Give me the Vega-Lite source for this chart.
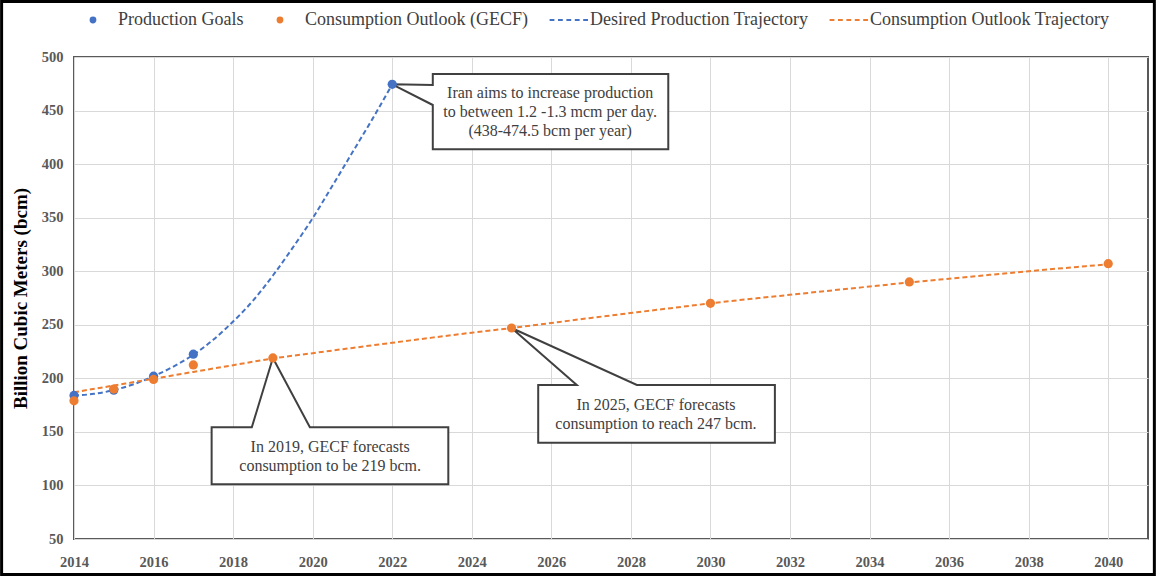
{
  "$schema": "https://vega.github.io/schema/vega-lite/v6.json",
  "width": 1074,
  "height": 482,
  "autosize": {"type": "none"},
  "padding": {"left": 74, "top": 57, "right": 8, "bottom": 37},
  "background": "white",
  "config": {
    "view": {"stroke": "#595959", "strokeWidth": 2},
    "font": "Liberation Serif"
  },
  "datasets": {
    "points": [
      {"series": "Production Goals", "year": 2014, "bcm": 184},
      {"series": "Production Goals", "year": 2015, "bcm": 189},
      {"series": "Production Goals", "year": 2016, "bcm": 202},
      {"series": "Production Goals", "year": 2017, "bcm": 222.5},
      {"series": "Production Goals", "year": 2022, "bcm": 474.5},
      {"series": "Consumption Outlook (GECF)", "year": 2014, "bcm": 179},
      {"series": "Consumption Outlook (GECF)", "year": 2015, "bcm": 190},
      {"series": "Consumption Outlook (GECF)", "year": 2016, "bcm": 199},
      {"series": "Consumption Outlook (GECF)", "year": 2017, "bcm": 212.5},
      {"series": "Consumption Outlook (GECF)", "year": 2019, "bcm": 219},
      {"series": "Consumption Outlook (GECF)", "year": 2025, "bcm": 247},
      {"series": "Consumption Outlook (GECF)", "year": 2030, "bcm": 270},
      {"series": "Consumption Outlook (GECF)", "year": 2035, "bcm": 290},
      {"series": "Consumption Outlook (GECF)", "year": 2040, "bcm": 307}
    ],
    "trend": [
      {"series": "Desired Production Trajectory", "year": 2014, "bcm": 184},
      {"series": "Desired Production Trajectory", "year": 2014.5, "bcm": 185.5},
      {"series": "Desired Production Trajectory", "year": 2015, "bcm": 189},
      {"series": "Desired Production Trajectory", "year": 2015.5, "bcm": 194.5},
      {"series": "Desired Production Trajectory", "year": 2016, "bcm": 202},
      {"series": "Desired Production Trajectory", "year": 2016.5, "bcm": 211},
      {"series": "Desired Production Trajectory", "year": 2017, "bcm": 222},
      {"series": "Desired Production Trajectory", "year": 2017.5, "bcm": 236},
      {"series": "Desired Production Trajectory", "year": 2018, "bcm": 253},
      {"series": "Desired Production Trajectory", "year": 2018.5, "bcm": 272.5},
      {"series": "Desired Production Trajectory", "year": 2019, "bcm": 296},
      {"series": "Desired Production Trajectory", "year": 2019.5, "bcm": 322},
      {"series": "Desired Production Trajectory", "year": 2020, "bcm": 349.5},
      {"series": "Desired Production Trajectory", "year": 2020.5, "bcm": 380},
      {"series": "Desired Production Trajectory", "year": 2021, "bcm": 411},
      {"series": "Desired Production Trajectory", "year": 2021.5, "bcm": 442},
      {"series": "Desired Production Trajectory", "year": 2022, "bcm": 474.5},
      {"series": "Consumption Outlook Trajectory", "year": 2014, "bcm": 187},
      {"series": "Consumption Outlook Trajectory", "year": 2015, "bcm": 193.3},
      {"series": "Consumption Outlook Trajectory", "year": 2016, "bcm": 199.6},
      {"series": "Consumption Outlook Trajectory", "year": 2017, "bcm": 206},
      {"series": "Consumption Outlook Trajectory", "year": 2018, "bcm": 212.3},
      {"series": "Consumption Outlook Trajectory", "year": 2019, "bcm": 218.5},
      {"series": "Consumption Outlook Trajectory", "year": 2020, "bcm": 223.5},
      {"series": "Consumption Outlook Trajectory", "year": 2021, "bcm": 228.4},
      {"series": "Consumption Outlook Trajectory", "year": 2022, "bcm": 233.2},
      {"series": "Consumption Outlook Trajectory", "year": 2023, "bcm": 238},
      {"series": "Consumption Outlook Trajectory", "year": 2024, "bcm": 242.6},
      {"series": "Consumption Outlook Trajectory", "year": 2025, "bcm": 247},
      {"series": "Consumption Outlook Trajectory", "year": 2026, "bcm": 251.7},
      {"series": "Consumption Outlook Trajectory", "year": 2027, "bcm": 256.4},
      {"series": "Consumption Outlook Trajectory", "year": 2028, "bcm": 261},
      {"series": "Consumption Outlook Trajectory", "year": 2029, "bcm": 265.5},
      {"series": "Consumption Outlook Trajectory", "year": 2030, "bcm": 270},
      {"series": "Consumption Outlook Trajectory", "year": 2032, "bcm": 278},
      {"series": "Consumption Outlook Trajectory", "year": 2034, "bcm": 285.7},
      {"series": "Consumption Outlook Trajectory", "year": 2035, "bcm": 289.5},
      {"series": "Consumption Outlook Trajectory", "year": 2036, "bcm": 293},
      {"series": "Consumption Outlook Trajectory", "year": 2038, "bcm": 300},
      {"series": "Consumption Outlook Trajectory", "year": 2040, "bcm": 306.5}
    ],
    "callouts": [
      {"id": 1, "ord": 0, "year": 2022, "bcm": 474.5},
      {"id": 1, "ord": 1, "year": 2023.02, "bcm": 473.9},
      {"id": 1, "ord": 2, "year": 2023.02, "bcm": 484.1},
      {"id": 1, "ord": 3, "year": 2028.94, "bcm": 484.1},
      {"id": 1, "ord": 4, "year": 2028.94, "bcm": 413.8},
      {"id": 1, "ord": 5, "year": 2023.02, "bcm": 413.8},
      {"id": 1, "ord": 6, "year": 2023.02, "bcm": 455.2},
      {"id": 1, "ord": 7, "year": 2022, "bcm": 474.5},
      {"id": 2, "ord": 0, "year": 2019, "bcm": 219},
      {"id": 2, "ord": 1, "year": 2019.93, "bcm": 154.3},
      {"id": 2, "ord": 2, "year": 2023.41, "bcm": 154.3},
      {"id": 2, "ord": 3, "year": 2023.41, "bcm": 101.1},
      {"id": 2, "ord": 4, "year": 2017.46, "bcm": 101.1},
      {"id": 2, "ord": 5, "year": 2017.46, "bcm": 154.3},
      {"id": 2, "ord": 6, "year": 2018.47, "bcm": 154.3},
      {"id": 2, "ord": 7, "year": 2019, "bcm": 219},
      {"id": 3, "ord": 0, "year": 2025, "bcm": 247},
      {"id": 3, "ord": 1, "year": 2028.15, "bcm": 193.8},
      {"id": 3, "ord": 2, "year": 2031.62, "bcm": 193.8},
      {"id": 3, "ord": 3, "year": 2031.62, "bcm": 139.9},
      {"id": 3, "ord": 4, "year": 2025.67, "bcm": 139.9},
      {"id": 3, "ord": 5, "year": 2025.67, "bcm": 193.8},
      {"id": 3, "ord": 6, "year": 2026.64, "bcm": 193.8},
      {"id": 3, "ord": 7, "year": 2025, "bcm": 247}
    ],
    "notes": [
      {"id": 1, "year": 2025.97, "bcm": 466.1, "text": "Iran aims to increase production\nto between 1.2 -1.3 mcm per day.\n(438-474.5 bcm per year)"},
      {"id": 2, "year": 2020.44, "bcm": 135.6, "text": "In 2019, GECF forecasts\nconsumption to be 219 bcm."},
      {"id": 3, "year": 2028.63, "bcm": 175.1, "text": "In 2025, GECF forecasts\nconsumption to reach 247 bcm."}
    ]
  },
  "layer": [
    {
      "encoding": {
        "x": {
          "field": "year",
          "type": "quantitative",
          "scale": {"domain": [2014, 2041], "nice": false, "zero": false},
          "axis": {
            "title": null,
            "values": [2014, 2016, 2018, 2020, 2022, 2024, 2026, 2028, 2030, 2032, 2034, 2036, 2038, 2040],
            "format": "d",
            "grid": true,
            "gridColor": "#d9d9d9",
            "domain": false,
            "ticks": false,
            "labelFlush": false,
            "labelFont": "Liberation Serif",
            "labelFontWeight": "bold",
            "labelFontSize": 14.5,
            "labelColor": "#595959",
            "labelPadding": 16
          }
        },
        "y": {
          "field": "bcm",
          "type": "quantitative",
          "scale": {"domain": [50, 500], "nice": false, "zero": false},
          "axis": {
            "title": "Billion Cubic Meters (bcm)",
            "titleFont": "Liberation Serif",
            "titleFontSize": 19,
            "titleFontWeight": "bold",
            "titleColor": "#000000",
            "titlePadding": 11,
            "values": [50, 100, 150, 200, 250, 300, 350, 400, 450, 500],
            "grid": true,
            "gridColor": "#d9d9d9",
            "domain": false,
            "ticks": false,
            "labelFlush": false,
            "labelFont": "Liberation Serif",
            "labelFontWeight": "bold",
            "labelFontSize": 14.5,
            "labelColor": "#595959",
            "labelPadding": 11
          }
        }
      },
      "layer": [
        {
          "data": {"name": "callouts"},
          "mark": {"type": "line", "fill": "white", "stroke": "#404040", "strokeWidth": 2, "interpolate": "linear"},
          "encoding": {
            "detail": {"field": "id", "type": "nominal"},
            "order": {"field": "ord", "type": "quantitative"}
          }
        },
        {
          "data": {"name": "trend"},
          "transform": [{"filter": "datum.series === 'Desired Production Trajectory'"}],
          "mark": {"type": "line", "stroke": "#4472C4", "strokeWidth": 2, "strokeDash": [5, 3], "interpolate": "monotone"},
          "encoding": {}
        },
        {
          "data": {"name": "trend"},
          "transform": [{"filter": "datum.series === 'Consumption Outlook Trajectory'"}],
          "mark": {"type": "line", "stroke": "#ED7D31", "strokeWidth": 2, "strokeDash": [5, 3], "interpolate": "monotone"},
          "encoding": {}
        },
        {
          "data": {"name": "points"},
          "transform": [{"filter": "datum.series === 'Production Goals'"}],
          "mark": {"type": "circle", "size": 85, "color": "#4472C4", "opacity": 1},
          "encoding": {}
        },
        {
          "data": {"name": "points"},
          "transform": [{"filter": "datum.series === 'Consumption Outlook (GECF)'"}],
          "mark": {"type": "circle", "size": 85, "color": "#ED7D31", "opacity": 1},
          "encoding": {}
        },
        {
          "data": {"name": "points"},
          "mark": {"type": "point", "filled": true, "size": 0, "strokeWidth": 2, "opacity": 1},
          "encoding": {
            "fill": {
              "field": "series", "type": "nominal",
              "scale": {
                "domain": ["Production Goals", "Consumption Outlook (GECF)", "Desired Production Trajectory", "Consumption Outlook Trajectory"],
                "range": ["#4472C4", "#ED7D31", "#4472C4", "#ED7D31"]
              },
              "legend": {
                "title": null,
                "orient": "none",
                "legendX": 20,
                "legendY": -46,
                "direction": "horizontal",
                "symbolSize": 64,
                "symbolStrokeWidth": 2,
                "labelFont": "Liberation Serif",
                "labelFontSize": 18,
                "labelColor": "#404040",
                "labelOffset": 6,
                "columnPadding": 16,
                "labelLimit": 400
              }
            },
            "stroke": {
              "field": "series", "type": "nominal",
              "scale": {
                "domain": ["Production Goals", "Consumption Outlook (GECF)", "Desired Production Trajectory", "Consumption Outlook Trajectory"],
                "range": ["#4472C4", "#ED7D31", "#4472C4", "#ED7D31"]
              }
            },
            "shape": {
              "field": "series", "type": "nominal",
              "scale": {
                "domain": ["Production Goals", "Consumption Outlook (GECF)", "Desired Production Trajectory", "Consumption Outlook Trajectory"],
                "range": [
                  "M-6.35,0M-3.1,0A0.6,0.6 0 1,0 -1.9,0A0.6,0.6 0 1,0 -3.1,0Z",
                  "M-6.35,0M-3.1,0A0.6,0.6 0 1,0 -1.9,0A0.6,0.6 0 1,0 -3.1,0Z",
                  "M-6.35,0H-5.15M-4.25,0H-3.05M-2.15,0H-0.95M-0.05,0H1.15M2.05,0H3.25",
                  "M-6.35,0H-5.15M-4.25,0H-3.05M-2.15,0H-0.95M-0.05,0H1.15M2.05,0H3.25"
                ]
              }
            }
          }
        },
        {
          "data": {"name": "notes"},
          "mark": {"type": "text", "font": "Liberation Serif", "fontSize": 16, "color": "#404040", "align": "center", "baseline": "middle", "lineBreak": "\n", "lineHeight": 19},
          "encoding": {
            "text": {"field": "text", "type": "nominal"}
          }
        }
      ]
    },
    {
      "data": {"values": [{"frame": 1}]},
      "mark": {"type": "rect", "filled": false, "stroke": "#000000", "strokeWidth": 3, "clip": false},
      "encoding": {
        "x": {"datum": 2012.18, "type": "quantitative", "scale": {"domain": [2014, 2041], "nice": false, "zero": false}},
        "x2": {"datum": 2041.16},
        "y": {"datum": 551.8, "type": "quantitative", "scale": {"domain": [50, 500], "nice": false, "zero": false}},
        "y2": {"datum": 16.9}
      }
    }
  ]
}
